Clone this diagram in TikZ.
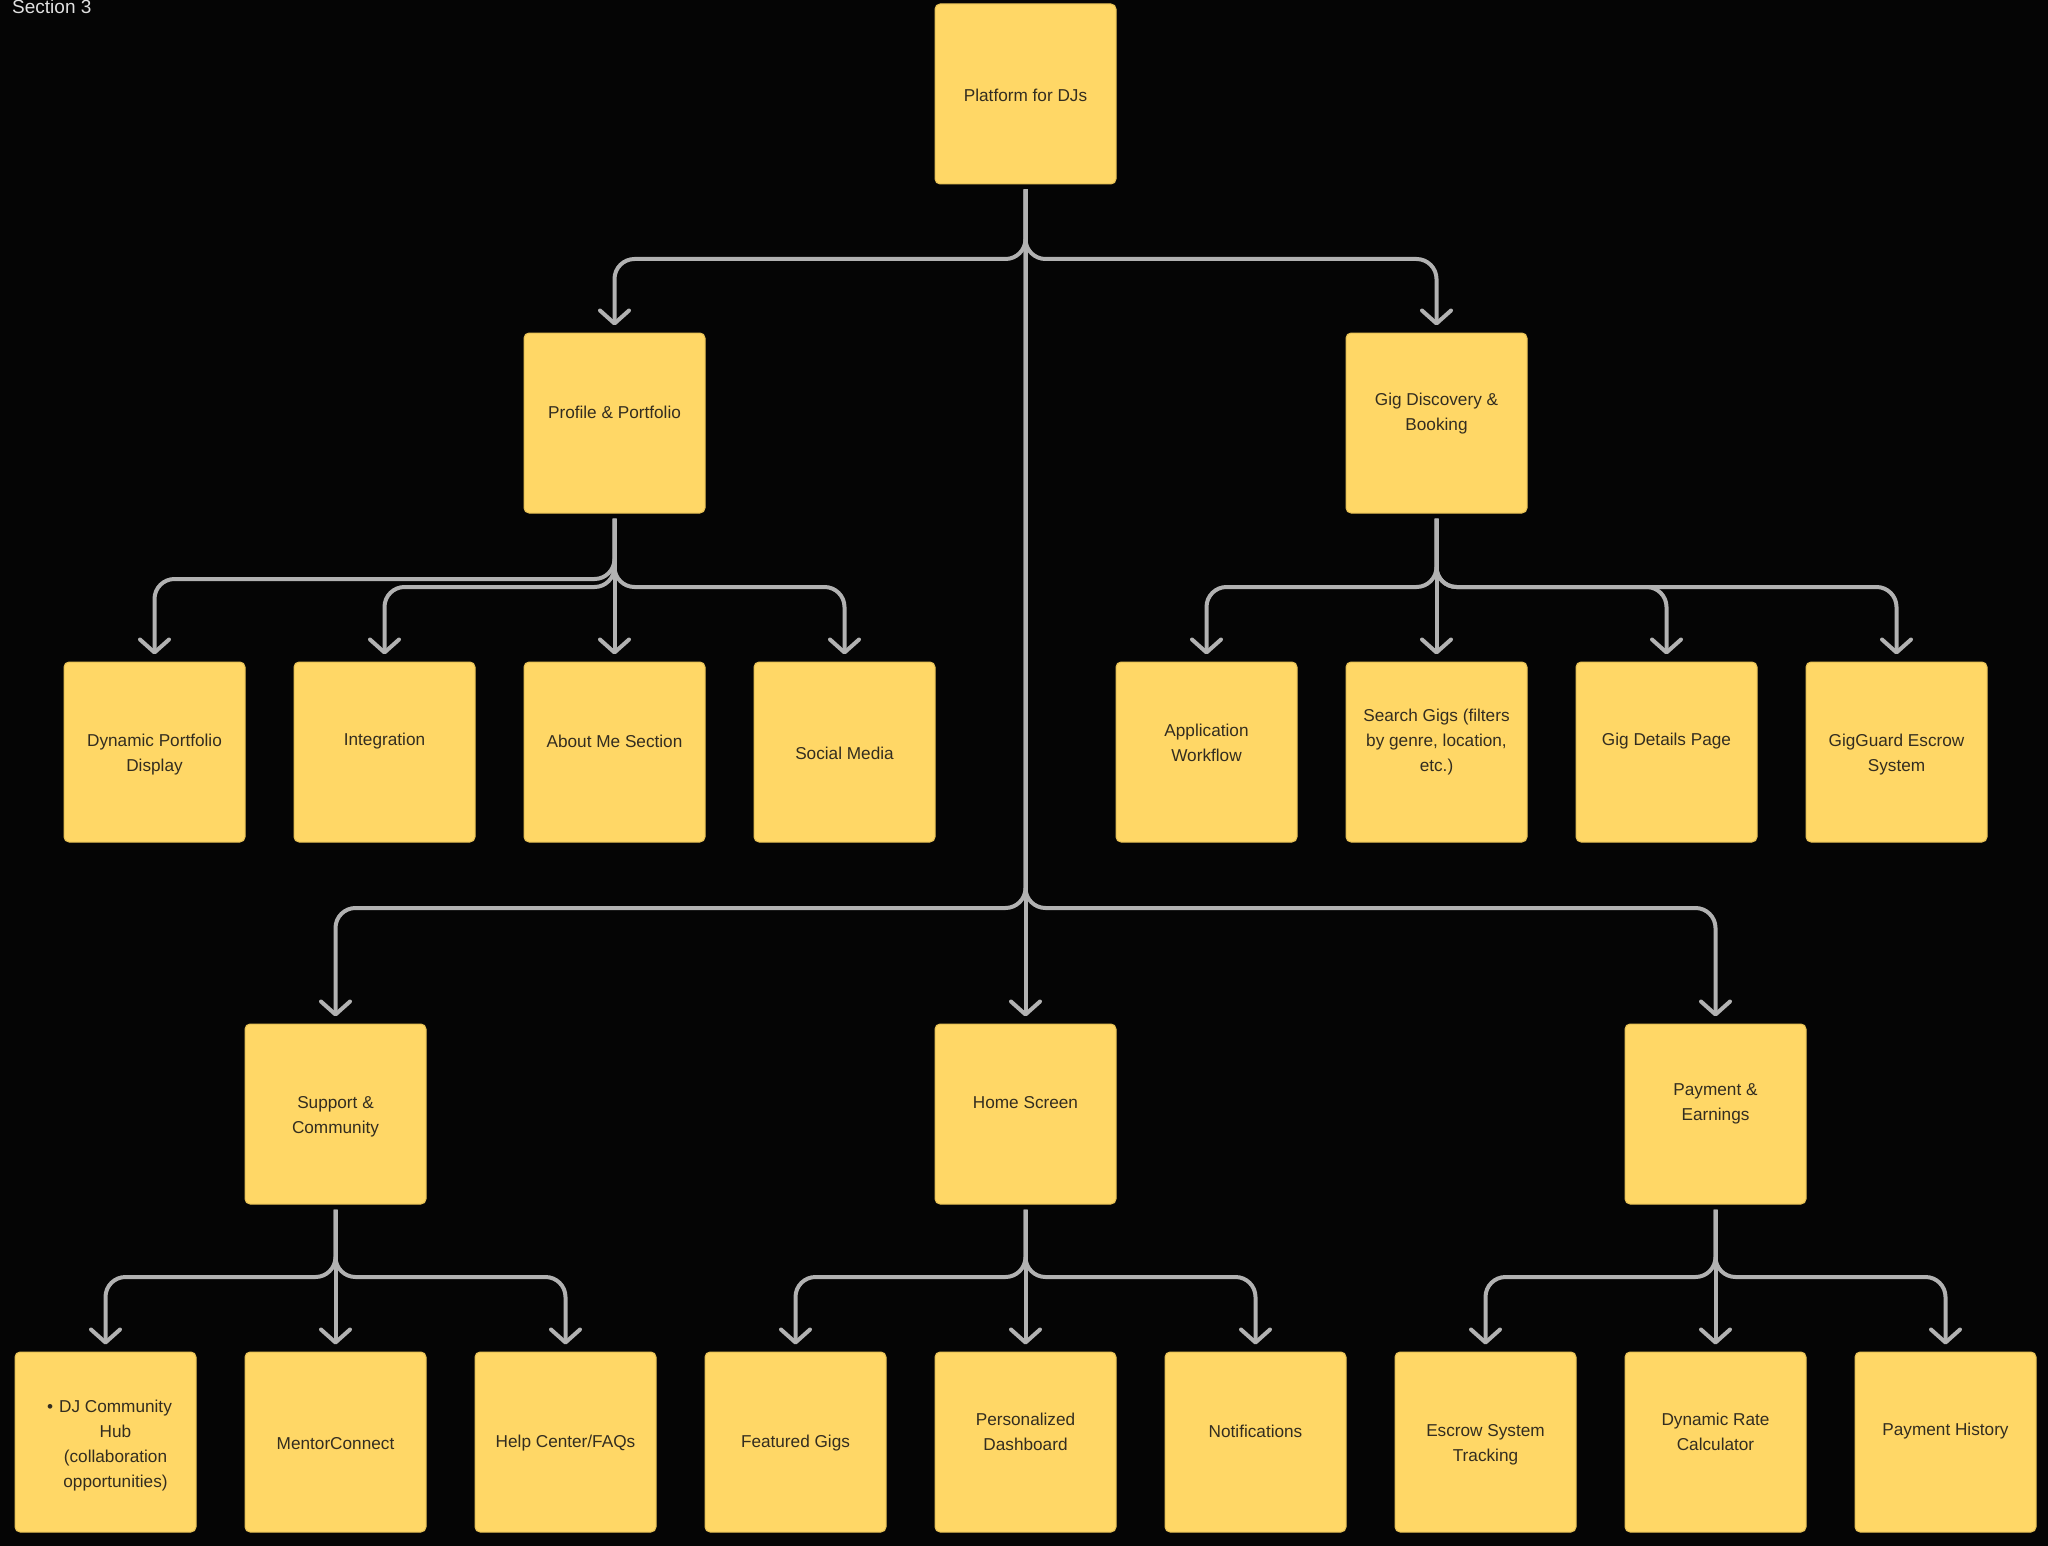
\documentclass[tikz,border=0pt]{standalone}
\usepackage{fontspec}
\setmainfont{Liberation Sans}
\usetikzlibrary{arrows.meta,calc}
\definecolor{bgcol}{HTML}{050505}
\definecolor{boxfill}{HTML}{FFD766}
\definecolor{boxedge}{HTML}{E6C055}
\definecolor{txtcol}{HTML}{332D20}
\definecolor{linegray}{HTML}{B2B2B2}
\begin{document}
\begin{tikzpicture}[x=1pt,y=-1pt,
  box/.style={draw=boxedge, line width=1pt, fill=boxfill, rounded corners=5pt, minimum width=181pt, minimum height=180pt, inner sep=0pt},
  lbl/.style={text=txtcol, align=center, font=\fontsize{17.2}{25}\selectfont, inner sep=0pt},
  link/.style={draw=linegray, line width=4pt, rounded corners=20pt, -{Straight Barb[length=13pt,width=29pt,round]}}
]
\useasboundingbox (0,0) rectangle (2048,1546);
\fill[bgcol] (0,0) rectangle (2048,1546);
\node[anchor=base west, text=white!88!black, font=\fontsize{19}{22}\selectfont, inner sep=0pt] (sect) at (12,13.5) {Section 3};

% boxes
\node[box] (platform) at (1025.5,94) {};
\node[box] (prof) at (614.5,423) {};
\node[box] (gig) at (1436.5,423) {};
\node[box] (dyn) at (154.5,752) {};
\node[box] (integ) at (384.5,752) {};
\node[box] (about) at (614.5,752) {};
\node[box] (social) at (844.5,752) {};
\node[box] (appl) at (1206.5,752) {};
\node[box] (search) at (1436.5,752) {};
\node[box] (details) at (1666.5,752) {};
\node[box] (guard) at (1896.5,752) {};
\node[box] (support) at (335.5,1114) {};
\node[box] (home) at (1025.5,1114) {};
\node[box] (payment) at (1715.5,1114) {};
\node[box] (dj) at (105.5,1442) {};
\node[box] (mentor) at (335.5,1442) {};
\node[box] (help) at (565.5,1442) {};
\node[box] (featured) at (795.5,1442) {};
\node[box] (dash) at (1025.5,1442) {};
\node[box] (notif) at (1255.5,1442) {};
\node[box] (escrow) at (1485.5,1442) {};
\node[box] (rate) at (1715.5,1442) {};
\node[box] (history) at (1945.5,1442) {};

% labels
\node[lbl] (platformt) at ($(platform.center)+(0,1)$) {Platform for DJs};
\node[lbl] (proft) at ($(prof.center)+(0,-11)$) {Profile \& Portfolio};
\node[lbl] (gigt) at ($(gig.center)+(0,-9.5)$) {Gig Discovery \&\\Booking};
\node[lbl] (dynt) at ($(dyn.center)+(0,3)$) {Dynamic Portfolio\\Display};
\node[lbl] (integt) at ($(integ.center)+(0,-11)$) {Integration};
\node[lbl] (aboutt) at ($(about.center)+(0,-11)$) {About Me Section};
\node[lbl] (socialt) at ($(social.center)+(0,1)$) {Social Media};
\node[lbl] (applt) at ($(appl.center)+(0,-9.5)$) {Application\\Workflow};
\node[lbl] (searcht) at ($(search.center)+(0,-10)$) {Search Gigs (filters\\by genre, location,\\etc.)};
\node[lbl] (detailst) at ($(details.center)+(0,-11)$) {Gig Details Page};
\node[lbl] (guardt) at ($(guard.center)+(0,3)$) {GigGuard Escrow\\System};
\node[lbl] (supportt) at ($(support.center)+(0,2.5)$) {Support \&\\Community};
\node[lbl] (homet) at ($(home.center)+(0,-11.5)$) {Home Screen};
\node[lbl] (paymentt) at ($(payment.center)+(0,-10)$) {Payment \&\\Earnings};
\node[lbl] (djt) at ($(dj.center)+(10,3.5)$) {\llap{\textbullet\hspace{6pt}}DJ Community\\Hub\\(collaboration\\opportunities)};
\node[lbl] (mentort) at ($(mentor.center)+(0,1.5)$) {MentorConnect};
\node[lbl] (helpt) at ($(help.center)+(0,1.5)$) {Help Center/FAQs};
\node[lbl] (featuredt) at ($(featured.center)+(0,1.5)$) {Featured Gigs};
\node[lbl] (dasht) at ($(dash.center)+(0,-10.5)$) {Personalized\\Dashboard};
\node[lbl] (notift) at ($(notif.center)+(0,-11)$) {Notifications};
\node[lbl] (escrowt) at ($(escrow.center)+(0,3)$) {Escrow System\\Tracking};
\node[lbl] (ratet) at ($(rate.center)+(0,-10.5)$) {Dynamic Rate\\Calculator};
\node[lbl] (historyt) at ($(history.center)+(0,-11)$) {Payment History};

% buses
\coordinate (busA) at (0,259);
\coordinate (busP1) at (0,579);
\coordinate (busP2) at (0,587);
\coordinate (busG) at (0,587);
\coordinate (busM) at (0,908);
\coordinate (busL) at (0,1277);

% level 1
\draw[link] ($(platform.south)+(0,5)$) -- ($(home.north)+(0,-7)$);
\foreach \c in {prof,gig}
  \draw[link] ($(platform.south)+(0,5)$) -- (platform.south |- busA) -- (\c.north |- busA) -- ($(\c.north)+(0,-7)$);
\foreach \c in {support,payment}
  \draw[link] ($(platform.south)+(0,5)$) -- (platform.south |- busM) -- (\c.north |- busM) -- ($(\c.north)+(0,-7)$);

% profile
\draw[link] ($(prof.south)+(0,5)$) -- ($(about.north)+(0,-7)$);
\draw[link] ($(prof.south)+(0,5)$) -- (prof.south |- busP1) -- (dyn.north |- busP1) -- ($(dyn.north)+(0,-7)$);
\foreach \c in {integ,social}
  \draw[link] ($(prof.south)+(0,5)$) -- (prof.south |- busP2) -- (\c.north |- busP2) -- ($(\c.north)+(0,-7)$);

% gig
\draw[link] ($(gig.south)+(0,5)$) -- ($(search.north)+(0,-7)$);
\foreach \c in {appl,details,guard}
  \draw[link] ($(gig.south)+(0,5)$) -- (gig.south |- busG) -- (\c.north |- busG) -- ($(\c.north)+(0,-7)$);

% support
\draw[link] ($(support.south)+(0,5)$) -- ($(mentor.north)+(0,-7)$);
\foreach \c in {dj,help}
  \draw[link] ($(support.south)+(0,5)$) -- (support.south |- busL) -- (\c.north |- busL) -- ($(\c.north)+(0,-7)$);

% home
\draw[link] ($(home.south)+(0,5)$) -- ($(dash.north)+(0,-7)$);
\foreach \c in {featured,notif}
  \draw[link] ($(home.south)+(0,5)$) -- (home.south |- busL) -- (\c.north |- busL) -- ($(\c.north)+(0,-7)$);

% payment
\draw[link] ($(payment.south)+(0,5)$) -- ($(rate.north)+(0,-7)$);
\foreach \c in {escrow,history}
  \draw[link] ($(payment.south)+(0,5)$) -- (payment.south |- busL) -- (\c.north |- busL) -- ($(\c.north)+(0,-7)$);
\end{tikzpicture}
\end{document}
